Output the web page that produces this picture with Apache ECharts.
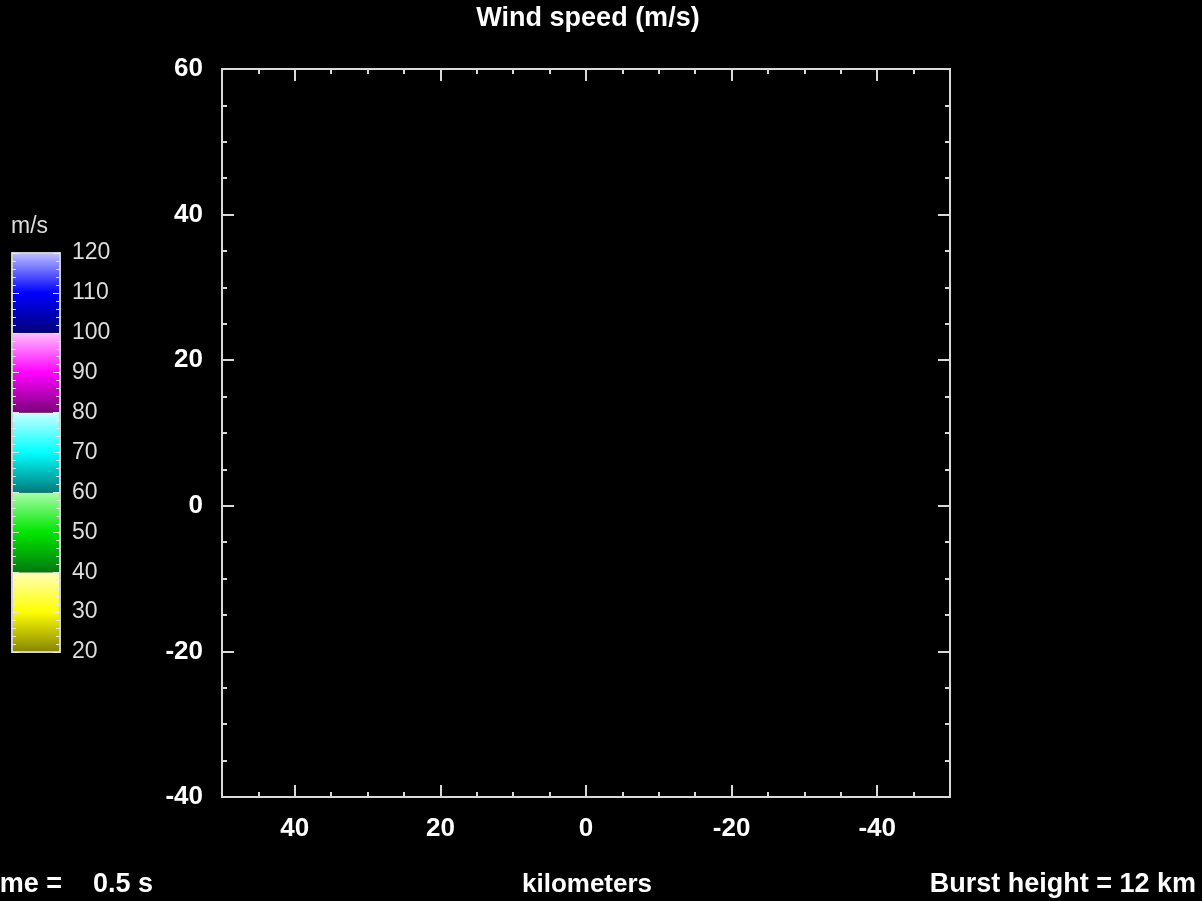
<!DOCTYPE html>
<html>
<head>
<meta charset="utf-8">
<script src="https://cdn.jsdelivr.net/npm/echarts@6/dist/echarts.min.js"></script>
<style>
html,body{margin:0;padding:0;background:#000;}
#chart{width:1202px;height:901px;}
</style>
</head>
<body>
<div id="chart"></div>
<script>
// ---- data ----
const titleText = 'Wind speed (m/s)';
const xAxisName = 'kilometers';
const timeLabel = 'Time =';
const timeValue = '0.5 s';
const burstLabel = 'Burst height = 12 km';
const colorbarUnit = 'm/s';

const xRange = [-50, 50];          // axis drawn inverted (50 on left)
const yRange = [-40, 60];
const xMajorTicks = [40, 20, 0, -20, -40];
const xMinorTicks = [45, 35, 30, 25, 15, 10, 5, -5, -10, -15, -25, -30, -35, -45];
const yTickLabels = [-40, -20, 0, 20, 40, 60];

// wind field points [x_km, y_km, speed] - nothing above threshold at t = 0.5 s
const windPoints = [];

// colour bar
const colorbarRange = [20, 120];
const colorbarLabels = [20, 30, 40, 50, 60, 70, 80, 90, 100, 110, 120];
const bandLows  = [20, 40, 60, 80, 100];
const bandHighs = [40, 60, 80, 100, 120];
const bandDark  = ['#858400', '#007a10', '#007a7a', '#7a007a', '#00007a'];
const bandMid   = ['#ffff00', '#00e600', '#00ffff', '#ff00ff', '#0000ff'];
const bandLight = ['#ffffb8', '#a8ffa8', '#c8ffff', '#ffc0ff', '#c0c0ff'];

// ---- chart ----
const FONT = 'Liberation Sans';
const AX = '#d9d9d9';
const chart = echarts.init(document.getElementById('chart'), null, {renderer: 'canvas'});

const bandData = bandLows.map((lo, i) => [lo, bandHighs[i], i]);

function xAx(pos, ticks, len, showLine, showLabel) {
  return {
    type: 'value', gridIndex: 0, position: pos, inverse: true,
    min: xRange[0], max: xRange[1],
    axisLine: {show: showLine, onZero: false, lineStyle: {color: AX, width: 2}},
    axisTick: {show: true, inside: true, length: len, customValues: ticks, lineStyle: {color: AX, width: 2}},
    axisLabel: showLabel ? {show: true, customValues: xMajorTicks, color: '#fff', fontFamily: FONT, fontWeight: 'bold', fontSize: 26, margin: 19} : {show: false},
    splitLine: {show: false}, z: 5
  };
}
function yAx(pos, showLabel) {
  return {
    type: 'value', gridIndex: 0, position: pos,
    min: yRange[0], max: yRange[1], interval: 20,
    axisLine: {show: true, onZero: false, lineStyle: {color: AX, width: 2}},
    axisTick: {show: true, inside: true, length: 12, lineStyle: {color: AX, width: 2}},
    minorTick: {show: true, splitNumber: 4, length: 5, lineStyle: {color: AX, width: 2}},
    axisLabel: showLabel ? {show: true, customValues: yTickLabels, color: '#fff', fontFamily: FONT, fontWeight: 'bold', fontSize: 26, margin: 19, padding: [6, 0, 0, 0]} : {show: false},
    splitLine: {show: false}, minorSplitLine: {show: false}, z: 5
  };
}

const option = {
  backgroundColor: '#000',
  animation: false,
  grid: [
    {left: 222, top: 69, width: 728, height: 728, show: false},
    {left: 12, top: 253, width: 48, height: 399, show: false}
  ],
  xAxis: [
    xAx('bottom', xMajorTicks, 12, true, true),
    xAx('bottom', xMinorTicks, 5, false, false),
    xAx('top', xMajorTicks, 12, true, false),
    xAx('top', xMinorTicks, 5, false, false),
    {type: 'value', gridIndex: 1, position: 'bottom', min: 0, max: 1,
     axisLine: {show: true, onZero: false, lineStyle: {color: '#cfcfcf', width: 2}}, axisTick: {show: false}, axisLabel: {show: false}, splitLine: {show: false}, z: 5},
    {type: 'value', gridIndex: 1, position: 'top', min: 0, max: 1,
     axisLine: {show: true, onZero: false, lineStyle: {color: '#cfcfcf', width: 2}}, axisTick: {show: false}, axisLabel: {show: false}, splitLine: {show: false}, z: 5}
  ],
  yAxis: [
    yAx('left', true),
    yAx('right', false),
    {type: 'value', gridIndex: 1, position: 'left', min: colorbarRange[0], max: colorbarRange[1], interval: 10,
     axisLine: {show: true, onZero: false, lineStyle: {color: '#cfcfcf', width: 2}},
     axisTick: {show: true, inside: true, length: 7, lineStyle: {color: '#e8e8e8', width: 1}},
     minorTick: {show: true, splitNumber: 5, length: 4, lineStyle: {color: '#e8e8e8', width: 1}},
     axisLabel: {show: false}, splitLine: {show: false}, z: 5},
    {type: 'value', gridIndex: 1, position: 'right', min: colorbarRange[0], max: colorbarRange[1], interval: 10,
     axisLine: {show: true, onZero: false, lineStyle: {color: '#cfcfcf', width: 2}},
     axisTick: {show: true, inside: true, length: 7, lineStyle: {color: '#e8e8e8', width: 1}},
     minorTick: {show: true, splitNumber: 5, length: 4, lineStyle: {color: '#e8e8e8', width: 1}},
     axisLabel: {show: true, customValues: colorbarLabels, color: '#dcdcdc', fontFamily: FONT, fontSize: 23, margin: 12, padding: [5, 0, 0, 0]},
     splitLine: {show: false}, z: 5}
  ],
  series: [
    {
      type: 'scatter', xAxisIndex: 0, yAxisIndex: 0, data: windPoints, symbolSize: 4
    },
    {
      type: 'custom', xAxisIndex: 4, yAxisIndex: 2, data: bandData,
      encode: {y: [0, 1]},
      renderItem: function (params, api) {
        const lo = api.value(0), hi = api.value(1), i = api.value(2);
        const p1 = api.coord([0, hi]);
        const p2 = api.coord([1, lo]);
        return {
          type: 'rect',
          shape: {x: p1[0], y: p1[1], width: p2[0] - p1[0], height: p2[1] - p1[1]},
          style: {
            fill: {type: 'linear', x: 0, y: 0, x2: 0, y2: 1, colorStops: [
              {offset: 0, color: bandLight[i]},
              {offset: 0.5, color: bandMid[i]},
              {offset: 1, color: bandDark[i]}
            ]}
          }
        };
      }
    }
  ],
  graphic: [
    {type: 'text', x: 588, y: 19, style: {text: titleText, fill: '#fff', font: 'bold 27px "' + FONT + '"', textAlign: 'center', textVerticalAlign: 'middle'}},
    {type: 'text', x: 587, y: 885, style: {text: xAxisName, fill: '#fff', font: 'bold 26px "' + FONT + '"', textAlign: 'center', textVerticalAlign: 'middle'}},
    {type: 'text', x: 62, y: 885, style: {text: timeLabel, fill: '#fff', font: 'bold 27px "' + FONT + '"', textAlign: 'right', textVerticalAlign: 'middle'}},
    {type: 'text', x: 93, y: 885, style: {text: timeValue, fill: '#fff', font: 'bold 27px "' + FONT + '"', textAlign: 'left', textVerticalAlign: 'middle'}},
    {type: 'text', x: 1196, y: 885, style: {text: burstLabel, fill: '#fff', font: 'bold 27px "' + FONT + '"', textAlign: 'right', textVerticalAlign: 'middle'}},
    {type: 'text', x: 11, y: 227, style: {text: colorbarUnit, fill: '#dcdcdc', font: '23px "' + FONT + '"', textAlign: 'left', textVerticalAlign: 'middle'}}
  ]
};
chart.setOption(option);
</script>
</body>
</html>
